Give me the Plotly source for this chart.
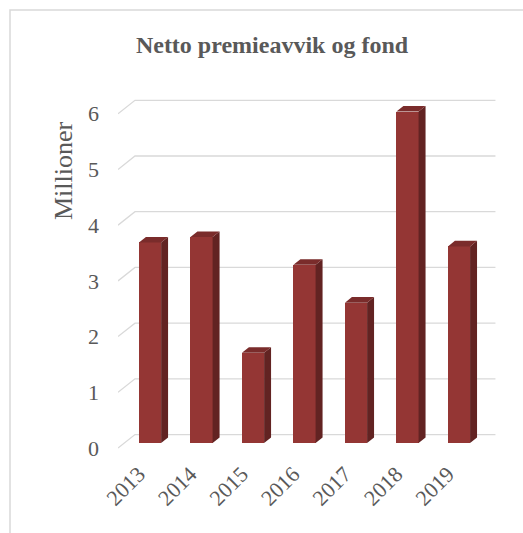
import plotly.graph_objects as go

years = ["2013", "2014", "2015", "2016", "2017", "2018", "2019"]
values = [3.6, 3.7, 1.62, 3.2, 2.52, 5.95, 3.53]
y_ticks = [0, 1, 2, 3, 4, 5, 6]

# pseudo-3D geometry (data units)
DX, DY = 0.33, 0.242      # full depth offset of the floor/back wall
F1, F2 = 0.37, 0.78       # bar front / back depth fraction
W = 0.43                  # bar width

FRONT = "#943634"
SIDE = "#622322"
TOP = "#7a2c2b"
GRID = "#d9d9d9"
TXT = "#595959"
FONT = "Liberation Serif"

idx = list(range(len(years)))

# gridlines (back wall + diagonal on left side wall)
gx, gy = [], []
for v in y_ticks:
    gx += [-0.5, -0.5 + DX, len(years) - 0.5 + DX, None]
    gy += [v, v + DY, v + DY, None]

# side and top faces
sx, sy, tx, ty = [], [], [], []
for i, v in zip(idx, values):
    r1 = i + W / 2 + F1 * DX
    r2 = i + W / 2 + F2 * DX
    l1 = i - W / 2 + F1 * DX
    l2 = i - W / 2 + F2 * DX
    sx += [r1, r2, r2, r1, r1, None]
    sy += [F1 * DY, F2 * DY, v + F2 * DY, v + F1 * DY, F1 * DY, None]
    tx += [l1, r1, r2, l2, l1, None]
    ty += [v + F1 * DY, v + F1 * DY, v + F2 * DY, v + F2 * DY, v + F1 * DY, None]

fig = go.Figure()
fig.add_trace(go.Scatter(x=gx, y=gy, mode="lines", line=dict(color=GRID, width=1.3),
                         hoverinfo="skip", showlegend=False, xaxis="x", yaxis="y"))
fig.add_trace(go.Bar(x=[i + F1 * DX for i in idx], y=values, base=F1 * DY, width=W,
                     marker=dict(color=FRONT, line=dict(width=0)),
                     showlegend=False, xaxis="x2", yaxis="y2"))
fig.add_trace(go.Scatter(x=sx, y=sy, mode="lines", fill="toself", fillcolor=SIDE,
                         line=dict(width=0, color=SIDE), hoverinfo="skip",
                         showlegend=False, xaxis="x2", yaxis="y2"))
fig.add_trace(go.Scatter(x=tx, y=ty, mode="lines", fill="toself", fillcolor=TOP,
                         line=dict(width=0, color=TOP), hoverinfo="skip",
                         showlegend=False, xaxis="x2", yaxis="y2"))

W_PX, H_PX = 523, 533
L, R, T, B = 118, 26, 95, 73
XR = [-0.5, 6.86]
YR = [-0.215, 6.337]
PW, PH = W_PX - L - R, H_PX - T - B

fig.update_layout(
    width=W_PX, height=H_PX,
    margin=dict(l=L, r=R, t=T, b=B, pad=0),
    paper_bgcolor="white", plot_bgcolor="white",
    font=dict(family=FONT, color=TXT),
    title=dict(text="<b>Netto premieavvik og fond</b>", x=272 / W_PX, xanchor="center",
               y=1 - 45 / H_PX, yanchor="middle", xref="container", yref="container",
               font=dict(family=FONT, size=24, color=TXT)),
    xaxis=dict(range=XR, tickvals=idx, ticktext=years, tickangle=-45,
               showgrid=False, zeroline=False, showline=False, ticks="",
               tickfont=dict(size=22, color=TXT), ticklabelstandoff=-4,
               ticklabelshift=-5),
    yaxis=dict(range=YR, tickvals=y_ticks, showgrid=False, zeroline=False,
               showline=False, ticks="", tickfont=dict(size=22, color=TXT),
               ticklabelstandoff=18),
    xaxis2=dict(range=XR, overlaying="x", visible=False),
    yaxis2=dict(range=YR, overlaying="y", visible=False),
    bargap=0,
    annotations=[dict(text="Millioner", x=(63 - L) / PW, y=(H_PX - B - 171) / PH,
                      xref="paper", yref="paper", xanchor="center", yanchor="middle",
                      textangle=-90, showarrow=False,
                      font=dict(family=FONT, size=26, color=TXT))],
    shapes=[dict(type="rect", xref="paper", yref="paper",
                 x0=(10 - L) / PW, x1=(W_PX + 20 - L) / PW,
                 y0=(H_PX - B - (H_PX + 20)) / PH, y1=(H_PX - B - 10) / PH,
                 line=dict(color=GRID, width=1.5), layer="below")],
)

fig.write_html("out.html")
